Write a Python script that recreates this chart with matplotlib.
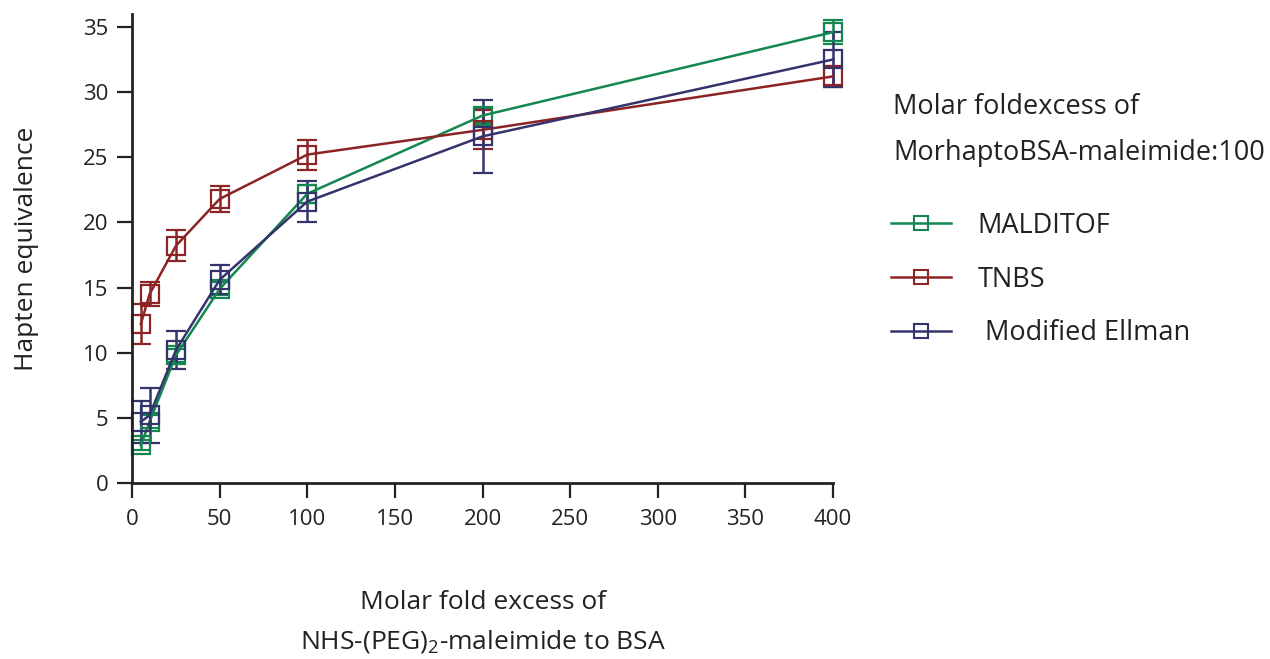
import matplotlib
matplotlib.use("Agg")
import matplotlib.pyplot as plt
from matplotlib.lines import Line2D

plt.rcParams['font.family'] = ['Open Sans', 'DejaVu Sans']
plt.rcParams['mathtext.fontset'] = 'custom'
plt.rcParams['mathtext.rm'] = 'Open Sans'

x = [5, 10, 25, 50, 100, 200, 400]

maldi = [2.9, 4.7, 9.8, 14.9, 22.2, 28.2, 34.6]
maldi_err = [0.4, 0.5, 0.5, 0.5, 0.7, 0.6, 0.9]

tnbs = [12.2, 14.5, 18.2, 21.8, 25.2, 27.1, 31.2]
tnbs_err = [1.5, 0.9, 1.2, 1.0, 1.15, 1.5, 0.8]

ellman = [4.7, 5.2, 10.2, 15.6, 21.6, 26.6, 32.5]
ellman_err = [1.6, 2.1, 1.45, 1.1, 1.6, 2.8, 2.1]

series = [
    ('MALDITOF', maldi, maldi_err, '#13874f'),
    ('TNBS', tnbs, tnbs_err, '#8c2426'),
    (' Modified Ellman', ellman, ellman_err, '#34346c'),
]

fig = plt.figure(figsize=(12.7, 6.59), dpi=100)
ax = fig.add_axes([0.104, 0.267, 0.552, 0.712])

handles = []
for name, y, err, col in series:
    eb = ax.errorbar(x, y, yerr=err, color=col, lw=1.8, capsize=7, capthick=1.8,
                     marker='s', ms=13, mfc='none', mec=col, mew=1.6, clip_on=False)
    for art in eb.lines[1] + eb.lines[2]:
        art.set_clip_on(False)
    handles.append(Line2D([], [], color=col, lw=1.8, marker='s', ms=10,
                          mfc='none', mec=col, mew=1.5))

ax.set_xlim(0, 400)
ax.set_ylim(0, 36)
ax.set_xticks(range(0, 401, 50))
ax.set_yticks(range(0, 36, 5))
ax.spines['top'].set_visible(False)
ax.spines['right'].set_visible(False)
for s in ['left', 'bottom']:
    ax.spines[s].set_linewidth(2)
    ax.spines[s].set_color('#222222')
ax.tick_params(axis='both', length=11, width=1.6, colors='#222222', labelsize=16, pad=8)
ax.tick_params(axis='y', pad=6)

ax.set_ylabel('Hapten equivalence', fontsize=19, color='#222222', labelpad=32)
ax.set_xlabel('Molar fold excess of\nNHS-(PEG)$_2$-maleimide to BSA', fontsize=19,
              color='#222222', labelpad=43, linespacing=1.65)

fig.text(893 / 1270, 1 - 130 / 659, 'Molar foldexcess of\nMorhaptoBSA-maleimide:100',
         fontsize=19.5, color='#222222', ha='left', va='center', linespacing=1.85)

leg = fig.legend(handles, [s[0] for s in series], loc='upper left',
                 bbox_to_anchor=(0.693, 1 - 201 / 659), frameon=False, fontsize=19.5,
                 handlelength=2.2, labelspacing=0.95, handletextpad=1.0, borderaxespad=0)
for t in leg.get_texts():
    t.set_color('#222222')

fig.savefig('out.png', dpi=100)
